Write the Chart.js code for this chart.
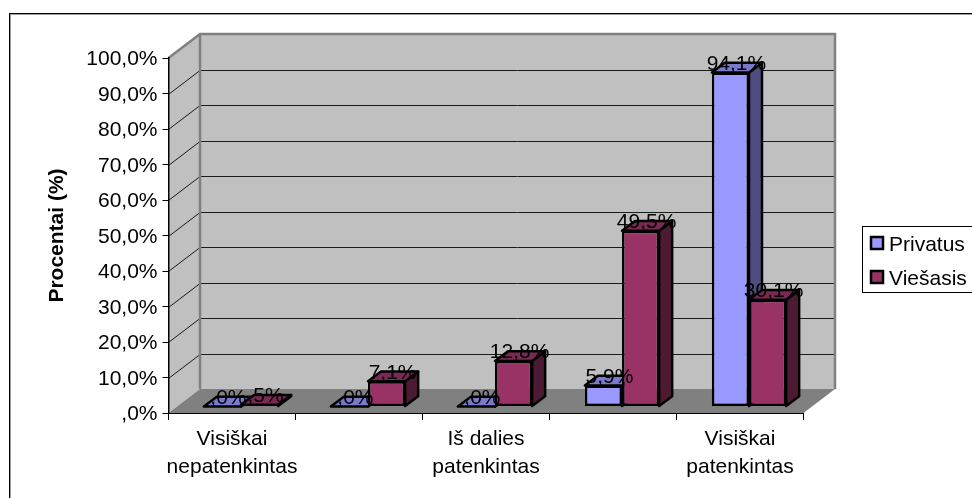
<!DOCTYPE html>
<html>
<head>
<meta charset="utf-8">
<style>
  body { margin: 0; background: #fff; }
  canvas { display: block; }
</style>
<script src="https://cdn.jsdelivr.net/npm/chart.js@4"></script>
</head>
<body>
<canvas id="myChart" width="972" height="498"></canvas>
<script>
const categories = [
    ['Visiškai', 'nepatenkintas'],
    '',
    ['Iš dalies', 'patenkintas'],
    '',
    ['Visiškai', 'patenkintas'],
]
const privatus = [0, 0, 0, 5.9, 94.1]
const viesasis = [0.5, 7.1, 12.8, 49.5, 30.1]

const FONT = '"Liberation Sans", Arial, sans-serif'
const FONT_SIZE = 21

// box depth of the 3d plot, and where the bars sit inside it
const depthX = 31.5
const depthY = 24
const barShiftX = 9
const barShiftY = 6.5
const barDepthX = 13
const barDepthY = 9.7

// excel style percent: 49.5 -> "49,5%", 0 -> ",0%"
function pct(v) {
    return Number(v).toFixed(1).replace('.', ',').replace(/^0,/, ',') + '%'
}

function poly(ctx, pts, fill, stroke, width) {
    ctx.beginPath()
    pts.forEach((p, i) => i ? ctx.lineTo(p[0], p[1]) : ctx.moveTo(p[0], p[1]))
    ctx.closePath()
    if (fill) {
        ctx.fillStyle = fill
        ctx.fill()
    }
    if (stroke) {
        ctx.strokeStyle = stroke
        ctx.lineWidth = width
        ctx.lineJoin = 'round'
        ctx.stroke()
    }
}

// outer frame, walls and floor
const walls = {
    id: 'walls',
    afterUpdate(chart) {
        // canvas "middle" sits a bit high for this font, nudge the value axis labels
        chart.scales.y.getLabelItems().forEach(item => {
            item.options.translation[1] += 1.5
        })
    },
    beforeDraw(chart) {
        const { ctx, chartArea: a, scales } = chart
        const y = scales.y
        ctx.save()
        ctx.fillStyle = '#fff'
        ctx.fillRect(0, 0, chart.width, chart.height)
        ctx.strokeStyle = '#a0a0a0'
        ctx.lineWidth = 1
        ctx.strokeRect(10.5, 14.5, 1000, 600)
        ctx.strokeStyle = '#000'
        ctx.strokeRect(9.5, 13.5, 1000, 600)

        const bx = a.left + depthX, by = a.top - depthY, bb = a.bottom - depthY, br = a.right + depthX
        poly(ctx, [[bx, by], [br, by], [br, bb], [bx, bb]], '#c0c0c0')
        poly(ctx, [[a.left, a.top], [bx, by], [bx, bb], [a.left, a.bottom]], '#c0c0c0')
        poly(ctx, [[a.left, a.bottom], [bx, bb], [br, bb], [a.right, a.bottom]], '#808080')

        ctx.strokeStyle = '#1a1a1a'
        ctx.lineWidth = 1
        y.ticks.forEach(t => {
            if (t.value === 0 || t.value === 100) return
            const py = Math.round(y.getPixelForValue(t.value)) + 0.5
            ctx.beginPath()
            ctx.moveTo(a.left, py)
            ctx.lineTo(bx, py - depthY)
            ctx.lineTo(br, py - depthY)
            ctx.stroke()
        })

        ctx.strokeStyle = '#808080'
        ctx.lineWidth = 2.5
        ctx.beginPath()
        ctx.moveTo(a.left, a.top)
        ctx.lineTo(bx, by)
        ctx.lineTo(br, by)
        ctx.lineTo(br, bb)
        ctx.moveTo(bx, by)
        ctx.lineTo(bx, bb)
        ctx.stroke()
        ctx.restore()
    },
}

// bars: side and top faces come first, then the library's own front rectangle.
// datasets go left to right so a lower neighbour can cover a taller bar's side.
const bars3d = {
    id: 'bars3d',
    beforeDatasetsDraw(chart) {
        const { ctx } = chart
        const metas = chart.getSortedVisibleDatasetMetas()

        metas.forEach(meta => {
            const ds = chart.data.datasets[meta.index]
            ctx.save()
            ctx.translate(barShiftX, -barShiftY)
            meta.data.forEach(bar => {
                const l = bar.x - bar.width / 2, r = bar.x + bar.width / 2
                poly(ctx, [[r, bar.y], [r + barDepthX, bar.y - barDepthY], [r + barDepthX, bar.base - barDepthY], [r, bar.base]], ds.sideColor, '#000', 2.5)
                poly(ctx, [[l, bar.y], [l + barDepthX, bar.y - barDepthY], [r + barDepthX, bar.y - barDepthY], [r, bar.y]], ds.topColor, '#000', 2.5)
            })
            meta.controller.draw()
            ctx.restore()
        })

        ctx.save()
        ctx.font = FONT_SIZE + 'px ' + FONT
        ctx.fillStyle = '#000'
        ctx.textAlign = 'center'
        ctx.textBaseline = 'middle'
        metas.forEach(meta => {
            const ds = chart.data.datasets[meta.index]
            meta.data.forEach((bar, i) => {
                ctx.fillText(pct(ds.data[i]), bar.x + barShiftX + 6, bar.y - barShiftY - 8.5)
            })
        })
        ctx.restore()
        return false
    },
    afterDraw(chart) {
        // legend box runs off the right side
        const { ctx } = chart
        ctx.save()
        ctx.fillStyle = '#fff'
        ctx.fillRect(862, 226, 120, 67)
        ctx.strokeStyle = '#000'
        ctx.lineWidth = 1
        ctx.strokeRect(862.5, 226.5, 120, 66)
        ctx.font = FONT_SIZE + 'px ' + FONT
        ctx.textBaseline = 'middle'
        chart.data.datasets.forEach((ds, i) => {
            const top = 236 + i * 34
            ctx.fillStyle = ds.backgroundColor
            ctx.strokeStyle = '#000'
            ctx.lineWidth = 2.5
            ctx.fillRect(871, top + 1, 12, 12)
            ctx.strokeRect(871, top + 1, 12, 12)
            ctx.fillStyle = '#000'
            ctx.fillText(ds.label, 889, top + 9)
        })
        ctx.restore()
    },
}

const data1 = {
    labels: categories,
    datasets: [{
        label: 'Privatus',
        data: privatus,
        backgroundColor: '#9999ff',
        topColor: '#7a7acc',
        sideColor: '#4d4d80',
        borderColor: '#000',
        borderWidth: 2.5,
        borderSkipped: false,
    }, {
        label: 'Viešasis',
        data: viesasis,
        backgroundColor: '#993366',
        topColor: '#7a2952',
        sideColor: '#4d1a33',
        borderColor: '#000',
        borderWidth: 2.5,
        borderSkipped: false,
    }]
}

const config1 = {
    type: 'bar',
    data: data1,
    plugins: [walls, bars3d],
    options: {
        responsive: false,
        animation: false,
        categoryPercentage: 0.585,
        barPercentage: 1,
        layout: { padding: { left: 0, top: 58, right: 168.5, bottom: 0 } },
        plugins: {
            legend: { display: false },
            tooltip: { enabled: false },
        },
        scales: {
            x: {
                afterFit(scale) {
                    scale.height = 85
                    scale.paddingLeft = 0
                    scale.paddingRight = 0
                },
                grid: { drawOnChartArea: false, tickLength: 7, tickColor: '#000' },
                border: { color: '#000' },
                ticks: {
                    autoSkip: false,
                    maxRotation: 0,
                    minRotation: 0,
                    padding: 5,
                    color: '#000',
                    font: { family: FONT, size: FONT_SIZE, lineHeight: 1.33 },
                },
            },
            y: {
                min: 0,
                max: 100,
                afterFit(scale) {
                    scale.width = 168.5
                    scale.paddingTop = 0
                    scale.paddingBottom = 0
                },
                grid: { drawOnChartArea: false, tickLength: 6, tickColor: '#000' },
                border: { color: '#000', width: 1.5 },
                title: {
                    display: true,
                    text: 'Procentai (%)',
                    color: '#000',
                    font: { family: FONT, size: 21, weight: 'bold', lineHeight: 1.2 },
                    padding: { top: 45, bottom: 0 },
                },
                ticks: {
                    stepSize: 10,
                    padding: 5,
                    color: '#000',
                    font: { family: FONT, size: FONT_SIZE },
                    callback: v => pct(v),
                },
            },
        },
    },
}

const myChart1 = new Chart(document.getElementById('myChart'), config1)
</script>
</body>
</html>
